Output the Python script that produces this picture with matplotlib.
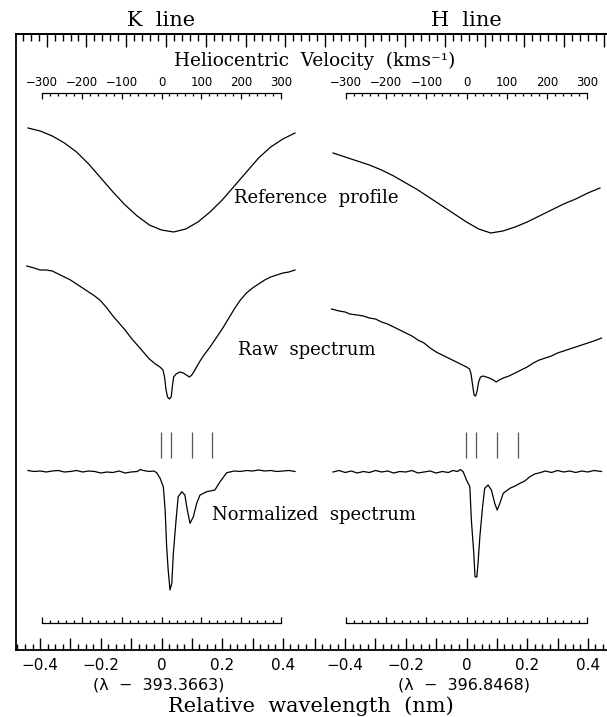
import numpy as np
import matplotlib
matplotlib.use("Agg")
import matplotlib.pyplot as plt
from matplotlib.ticker import MultipleLocator, FixedLocator, NullFormatter

C_KMS = 299792.458
K_REST = 393.3663
H_REST = 396.8468
H_SHIFT = 1.0053          # horizontal placement of the H-line panel (nm)

# ---------------- data (relative wavelength in nm, stacked intensity in arb. units) -------------
ref_x = [-0.44, -0.40, -0.36, -0.32, -0.28, -0.24, -0.20, -0.16, -0.12, -0.08, -0.04, 0.00,
         0.04, 0.08, 0.12, 0.16, 0.20, 0.24, 0.28, 0.32, 0.36, 0.40, 0.44]
k_ref = [5.22, 5.19, 5.14, 5.07, 4.98, 4.86, 4.72, 4.58, 4.45, 4.34, 4.25, 4.20,
         4.18, 4.21, 4.28, 4.38, 4.50, 4.64, 4.78, 4.92, 5.03, 5.11, 5.17]
h_ref = [4.97, 4.93, 4.89, 4.85, 4.80, 4.74, 4.67, 4.60, 4.52, 4.44, 4.36, 4.28,
         4.21, 4.17, 4.19, 4.23, 4.28, 4.34, 4.40, 4.46, 4.51, 4.57, 4.62]

k_raw_x = [-0.444, -0.42, -0.40, -0.38, -0.36, -0.34, -0.32, -0.30, -0.28, -0.26, -0.24, -0.22,
           -0.20, -0.18, -0.16, -0.14, -0.12, -0.10, -0.08, -0.06, -0.04, -0.02, -0.005, 0.005,
           0.010, 0.015, 0.020, 0.026, 0.032, 0.036, 0.040, 0.048, 0.060, 0.072, 0.082, 0.092,
           0.100, 0.110, 0.125, 0.14, 0.16, 0.18, 0.20, 0.22, 0.24, 0.26, 0.28, 0.30, 0.32,
           0.34, 0.36, 0.38, 0.40, 0.42, 0.44]
k_raw = [3.84, 3.82, 3.80, 3.80, 3.79, 3.76, 3.73, 3.70, 3.66, 3.62, 3.58, 3.54,
         3.49, 3.42, 3.34, 3.27, 3.20, 3.12, 3.05, 2.98, 2.91, 2.86, 2.83, 2.80,
         2.73, 2.60, 2.53, 2.51, 2.53, 2.64, 2.73, 2.76, 2.78, 2.77, 2.75, 2.73,
         2.75, 2.80, 2.88, 2.95, 3.03, 3.12, 3.21, 3.31, 3.41, 3.50, 3.57, 3.62, 3.66,
         3.70, 3.73, 3.75, 3.77, 3.78, 3.80]

h_raw_x = [-0.445, -0.42, -0.40, -0.385, -0.36, -0.34, -0.32, -0.30, -0.28, -0.26, -0.24, -0.22,
           -0.20, -0.18, -0.16, -0.14, -0.12, -0.10, -0.08, -0.06, -0.04, -0.02, 0.00, 0.010,
           0.015, 0.020, 0.025, 0.030, 0.035, 0.040, 0.046, 0.055, 0.065, 0.075, 0.088, 0.098,
           0.108, 0.121, 0.14, 0.16, 0.18, 0.20, 0.22, 0.24, 0.26, 0.28, 0.30, 0.32, 0.34,
           0.36, 0.38, 0.40, 0.42, 0.445]
h_raw = [3.41, 3.39, 3.38, 3.36, 3.35, 3.34, 3.32, 3.31, 3.28, 3.26, 3.23, 3.20,
         3.17, 3.14, 3.10, 3.07, 3.02, 2.98, 2.95, 2.92, 2.89, 2.86, 2.83, 2.81,
         2.76, 2.65, 2.55, 2.54, 2.59, 2.68, 2.73, 2.74, 2.73, 2.72, 2.70, 2.68,
         2.70, 2.72, 2.74, 2.77, 2.80, 2.83, 2.87, 2.90, 2.92, 2.94, 2.97, 2.99, 3.01,
         3.03, 3.05, 3.07, 3.09, 3.12]

k_norm_x = [-0.44, -0.42, -0.40, -0.38, -0.36, -0.34, -0.32, -0.30, -0.28, -0.26, -0.24, -0.22,
            -0.20, -0.18, -0.16, -0.14, -0.12, -0.10, -0.08, -0.07, -0.06, -0.04, -0.025, -0.016,
            -0.005, 0.006, 0.012, 0.017, 0.022, 0.028, 0.034, 0.039, 0.048, 0.055, 0.067, 0.077,
            0.085, 0.094, 0.105, 0.116, 0.127, 0.149, 0.176, 0.193, 0.215, 0.24, 0.26, 0.28,
            0.30, 0.32, 0.34, 0.36, 0.38, 0.40, 0.42, 0.44]
k_norm = [1.795, 1.785, 1.79, 1.78, 1.79, 1.795, 1.78, 1.785, 1.795, 1.78, 1.79, 1.785,
          1.77, 1.78, 1.775, 1.79, 1.77, 1.78, 1.785, 1.805, 1.795, 1.785, 1.79, 1.773,
          1.72, 1.633, 1.40, 1.033, 0.80, 0.60, 0.667, 0.967, 1.30, 1.533, 1.583, 1.55,
          1.40, 1.267, 1.333, 1.467, 1.55, 1.583, 1.60, 1.683, 1.773, 1.79, 1.785, 1.795,
          1.79, 1.80, 1.79, 1.795, 1.785, 1.79, 1.795, 1.785]

h_norm_x = [-0.44, -0.42, -0.40, -0.38, -0.36, -0.34, -0.32, -0.30, -0.28, -0.26, -0.24, -0.22,
            -0.20, -0.18, -0.16, -0.14, -0.12, -0.10, -0.08, -0.06, -0.045, -0.03, -0.02, -0.011,
            0.000, 0.011, 0.016, 0.024, 0.028, 0.034, 0.038, 0.044, 0.053, 0.060, 0.071, 0.082,
            0.093, 0.101, 0.110, 0.121, 0.143, 0.160, 0.176, 0.192, 0.209, 0.225, 0.242, 0.26,
            0.28, 0.30, 0.32, 0.34, 0.36, 0.38, 0.40, 0.42, 0.445]
h_norm = [1.78, 1.795, 1.775, 1.79, 1.77, 1.785, 1.775, 1.795, 1.78, 1.79, 1.77, 1.785,
          1.78, 1.795, 1.77, 1.78, 1.79, 1.77, 1.785, 1.775, 1.795, 1.785, 1.805, 1.783,
          1.70, 1.633, 1.30, 0.967, 0.733, 0.73, 0.867, 1.133, 1.433, 1.617, 1.65, 1.60,
          1.467, 1.40, 1.467, 1.567, 1.617, 1.64, 1.667, 1.69, 1.733, 1.76, 1.773, 1.79,
          1.775, 1.795, 1.78, 1.79, 1.775, 1.79, 1.78, 1.795, 1.785]

# velocities (km/s) of the marked absorption components
component_vel = [-2, 24, 76, 127]
mark_y = (1.923, 2.183)

vel_ticks = [-300, -200, -100, 0, 100, 200, 300]
wl_ticks = [-0.4, -0.2, 0.0, 0.2, 0.4]

# ---------------- figure ----------------
W, H = 607, 717
fig = plt.figure(figsize=(W / 100, H / 100), dpi=100)
ax = fig.add_axes([16 / W, (H - 650) / H, (W - 16) / W, 616 / H])
ax.set_xlim((16 - 161.5) / 303.4, (W - 161.5) / 303.4)
ax.set_ylim(0, 6.16)

SERIF = "DejaVu Serif"
SANS = "DejaVu Sans"
lw = 0.9

def xs(vals, shift):
    return np.asarray(vals) + shift

ax.plot(xs(ref_x, 0), k_ref, color="black", lw=lw)
ax.plot(xs(ref_x, H_SHIFT), h_ref, color="black", lw=lw)
ax.plot(xs(k_raw_x, 0), k_raw, color="black", lw=lw)
ax.plot(xs(h_raw_x, H_SHIFT), h_raw, color="black", lw=lw)
ax.plot(xs(k_norm_x, 0), k_norm, color="black", lw=lw)
ax.plot(xs(h_norm_x, H_SHIFT), h_norm, color="black", lw=lw)

for rest, shift in ((K_REST, 0.0), (H_REST, H_SHIFT)):
    wl = np.asarray(component_vel) / C_KMS * rest + shift
    ax.vlines(wl, mark_y[0], mark_y[1], color="#555555", lw=0.9)

# main frame
for s in ("left", "top", "bottom"):
    ax.spines[s].set_linewidth(1.3)
ax.spines["right"].set_visible(False)

def fmt(v):
    return ("%g" % round(v, 2)).replace("-", "\u2212")

k_major = [v / 10 for v in range(-4, 5)]
h_major_rel = [v / 10 for v in range(-5, 5)]
positions = k_major + [v + H_SHIFT for v in h_major_rel]
labels = [fmt(v) if any(abs(v - t) < 1e-6 for t in wl_ticks) else "" for v in k_major] + \
         [fmt(v) if any(abs(v - t) < 1e-6 for t in wl_ticks) else "" for v in h_major_rel]
ax.xaxis.set_major_locator(FixedLocator(positions))
ax.set_xticklabels(labels)
k_minor = list(np.arange(-19, 20) / 40)
h_minor = list(np.arange(-19, 19) / 40 + H_SHIFT)
ax.xaxis.set_minor_locator(FixedLocator(k_minor + h_minor))
ax.tick_params(axis="x", which="major", direction="in", length=9, width=1.0, pad=6,
               labelsize=11, bottom=True, top=False)
ax.tick_params(axis="x", which="minor", direction="in", length=4.5, width=1.0, bottom=True, top=False)
for t in ax.get_xticklabels():
    t.set_family(SANS)
ax.set_yticks([])

# top spine ticks (velocity spacing)
axt = ax.twiny()
axt.set_xlim(ax.get_xlim())
step = 100 / C_KMS * K_REST
axt.xaxis.set_major_locator(FixedLocator(list(0.015 + step * np.arange(-4, 12))))
axt.xaxis.set_minor_locator(FixedLocator(list(0.015 + step / 5 * np.arange(-20, 60))))
axt.xaxis.set_major_formatter(NullFormatter())
axt.tick_params(axis="x", which="major", direction="in", length=9.4, width=1.0)
axt.tick_params(axis="x", which="minor", direction="in", length=4.8, width=1.0)
for s in ("left", "right", "bottom"):
    axt.spines[s].set_visible(False)
axt.spines["top"].set_linewidth(1.3)

# inner velocity scales
for rest, shift in ((K_REST, 0.0), (H_REST, H_SHIFT)):
    half = 300 / C_KMS * rest
    top_ax = ax.inset_axes([shift - half, 5.57 - 0.2, 2 * half, 0.2], transform=ax.transData)
    top_ax.set_xlim(-300, 300)
    top_ax.patch.set_visible(False)
    for s in ("left", "right", "bottom"):
        top_ax.spines[s].set_visible(False)
    top_ax.spines["top"].set_linewidth(0.9)
    top_ax.set_yticks([])
    top_ax.xaxis.tick_top()
    top_ax.set_xticks(vel_ticks)
    top_ax.set_xticklabels([("%d" % v).replace("-", "\u2212") for v in vel_ticks])
    top_ax.xaxis.set_minor_locator(MultipleLocator(20))
    top_ax.tick_params(axis="x", which="major", direction="in", length=4.5, width=0.9, pad=3,
                       labelsize=8.5)
    top_ax.tick_params(axis="x", which="minor", direction="in", length=2.2, width=0.9)

    bot_ax = ax.inset_axes([shift - half, 0.273, 2 * half, 0.2], transform=ax.transData)
    bot_ax.set_xlim(-300, 300)
    bot_ax.patch.set_visible(False)
    for s in ("left", "right", "top"):
        bot_ax.spines[s].set_visible(False)
    bot_ax.spines["bottom"].set_linewidth(0.9)
    bot_ax.set_yticks([])
    bot_ax.set_xticks(vel_ticks)
    bot_ax.set_xticklabels([])
    bot_ax.xaxis.set_minor_locator(MultipleLocator(20))
    bot_ax.tick_params(axis="x", which="major", direction="in", length=4.5, width=0.9)
    bot_ax.tick_params(axis="x", which="minor", direction="in", length=2.2, width=0.9)

# texts
ax.text(0.0, 6.30, "K  line", ha="center", va="center", fontsize=15, family=SERIF)
ax.text(H_SHIFT, 6.30, "H  line", ha="center", va="center", fontsize=15, family=SERIF)
ax.text(0.506, 5.89, "Heliocentric  Velocity  (kms\u207b\u00b9)", ha="center", va="center",
        fontsize=13.2, family=SERIF)
ax.text(0.509, 4.52, "Reference  profile", ha="center", va="center", fontsize=13, family=SERIF)
ax.text(0.48, 3.00, "Raw  spectrum", ha="center", va="center", fontsize=13, family=SERIF)
ax.text(0.503, 1.35, "Normalized  spectrum", ha="center", va="center", fontsize=13, family=SERIF)
ax.text(-0.008, -0.35, "(\u03bb  \u2212  393.3663)", ha="center", va="center", fontsize=11.5, family=SANS)
ax.text(H_SHIFT - 0.008, -0.35, "(\u03bb  \u2212  396.8468)", ha="center", va="center", fontsize=11.5,
        family=SANS)
ax.text(0.493, -0.56, "Relative  wavelength  (nm)", ha="center", va="center", fontsize=15, family=SERIF)

fig.savefig("out.png", dpi=100)
